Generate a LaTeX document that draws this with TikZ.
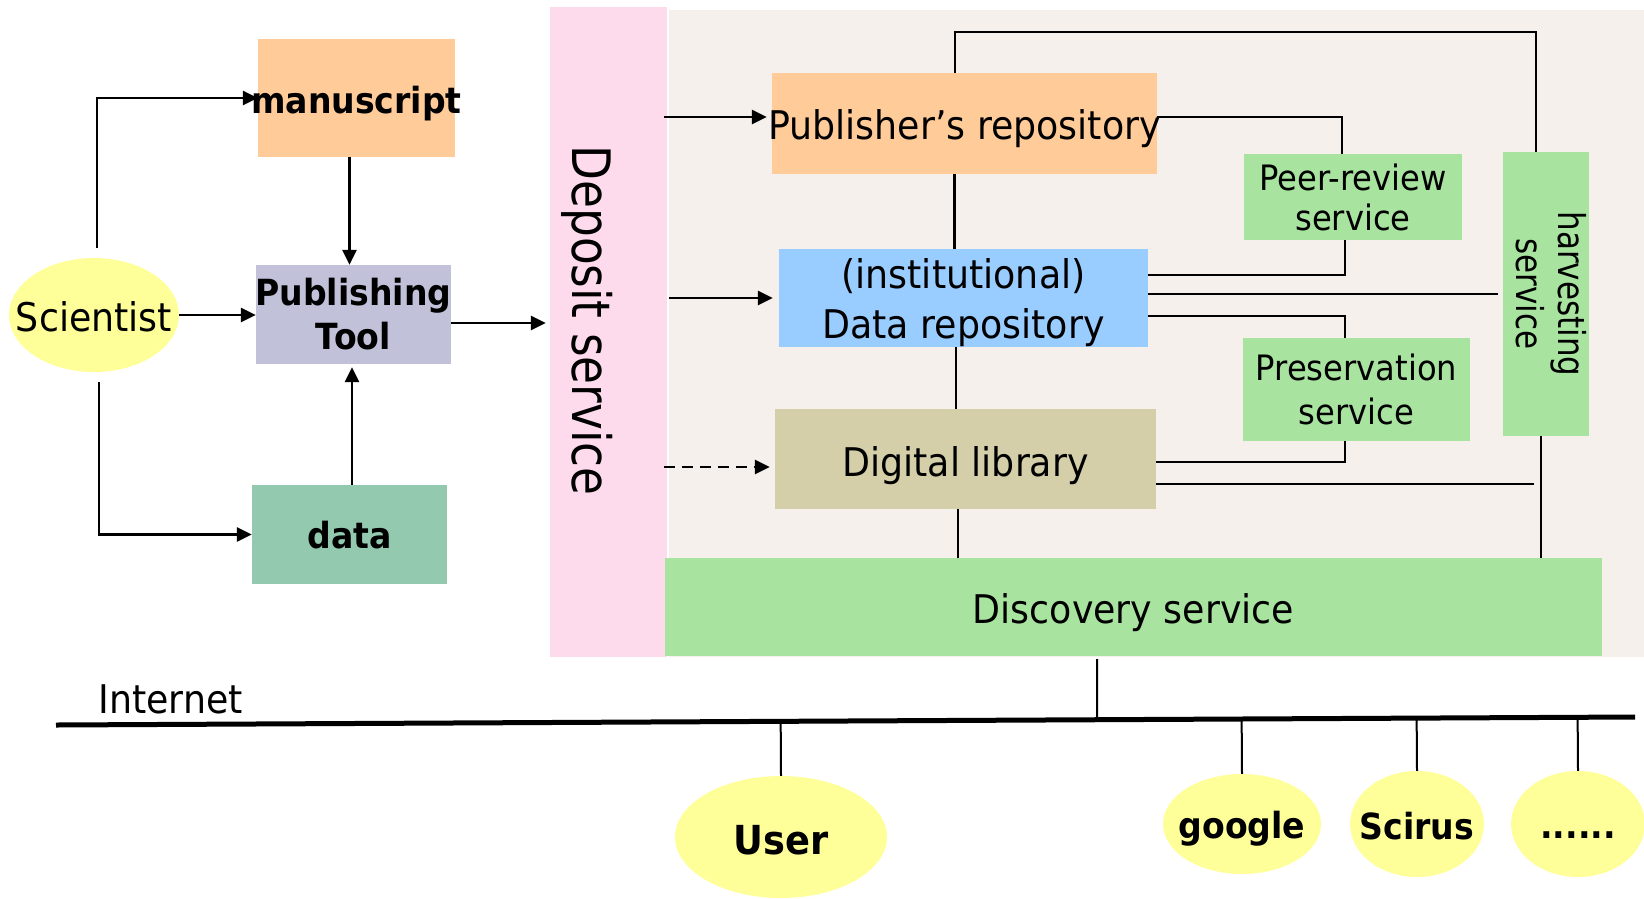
\documentclass[tikz,border=0pt]{standalone}
\usepackage{graphicx}
\usepackage{fontspec}
\setmainfont[FakeStretch=0.92]{DejaVu Sans}
\usetikzlibrary{shapes.geometric,arrows.meta,calc}

\definecolor{peach}{RGB}{255,204,153}
\definecolor{lavender}{RGB}{193,193,217}
\definecolor{seagreen}{RGB}{147,201,174}
\definecolor{lemon}{RGB}{255,255,153}
\definecolor{pinkish}{RGB}{253,219,236}
\definecolor{beige}{RGB}{245,240,236}
\definecolor{skyblue}{RGB}{153,204,255}
\definecolor{khaki}{RGB}{212,207,168}
\definecolor{mint}{RGB}{168,228,160}

\newcommand\setfs[2]{\fontsize{#1}{#2}\selectfont}

\begin{document}
\begin{tikzpicture}[x=1pt,y=-1pt,
  box/.style={rectangle,inner sep=0pt,align=center},
  oval/.style={ellipse,inner sep=0pt,fill=lemon},
  link/.style={line width=2.8pt},
  arr/.style={line width=2.8pt,-{Triangle[length=15pt,width=14pt]}},
  probe/.style={line width=2pt},
  plain/.style={font=\setfs{39.5}{50}},
  heavy/.style={font=\bfseries\setfs{36}{44}}]

\useasboundingbox (0,0) rectangle (1644,898);
\fill[white] (0,0) rectangle (1644,898);

% service area and deposit column
\fill[beige] (669,10) rectangle (1644,657);
\node[box,fill=pinkish,minimum width=117pt,minimum height=650pt] (dep) at (608.5,332) {};
\node[rotate=-90,anchor=base,font=\setfs{53}{60}] (deplabel) at (572,320.5)
  {\scalebox{0.93}[1]{Deposit service}};

% author side
\node[oval,minimum width=170pt,minimum height=114pt,plain,text height=32pt,text depth=0pt] (sci) at (94,315) {\makebox[0pt]{Scientist}};
\node[box,fill=peach,minimum width=197pt,minimum height=118pt,heavy,text height=30pt,text depth=0pt] (man) at (356.5,98) {\makebox[0pt]{manuscript}};
\node[box,fill=lavender,minimum width=195pt,minimum height=99pt,heavy] (tool) at (353.5,314.5) {\makebox[0pt]{Publishing}\\Tool};
\node[box,fill=seagreen,minimum width=195pt,minimum height=99pt,heavy,text height=27pt,text depth=0pt] (dat) at (349.5,534.5) {data};

% repositories
\node[box,fill=peach,minimum width=385pt,minimum height=101pt,plain,text height=31pt,text depth=0pt] (pub) at (964.5,123.5) {\makebox[0pt]{Publisher’s repository}};
\node[box,fill=skyblue,minimum width=369pt,minimum height=98pt,
  label={[name=dreptext,plain,align=center,yshift=-5pt]center:{(institutional)\\Data repository}}] (drep) at (963.5,298) {};
\node[box,fill=khaki,minimum width=381pt,minimum height=100pt,plain,text height=34pt,text depth=0pt] (dig) at (965.5,459) {Digital library};

% services
\node[box,fill=mint,minimum width=218pt,minimum height=86pt,font=\setfs{35}{40}] (peer) at (1353,197) {Peer-review\\service};
\node[box,fill=mint,minimum width=227pt,minimum height=103pt,font=\setfs{35}{44}] (pres) at (1356.5,389.5) {Preservation\\service};
\node[box,fill=mint,minimum width=86pt,minimum height=284pt,font=\setfs{37}{42}] (harv) at (1546,294)
  {\rotatebox{-90}{\begin{tabular}{@{}c@{}}\scalebox{0.91}[1]{harvesting}\\\scalebox{0.91}[1]{service}\end{tabular}}};
\node[box,fill=mint,minimum width=937pt,minimum height=98pt,plain,text height=32pt,text depth=0pt] (disc) at (1133.5,607) {Discovery service};

% network and its users
\coordinate (netL) at (56,725);
\coordinate (netR) at (1635,717);
\node[plain,anchor=base west] (inet) at (95,713) {Internet};
\node[oval,minimum width=212pt,minimum height=122pt,font=\bfseries\setfs{40}{44},text height=34pt,text depth=0pt] (user) at (781,837) {\makebox[0pt]{User}};
\node[oval,minimum width=158pt,minimum height=100pt,heavy,text height=28pt,text depth=0pt] (google) at (1242,824) {\makebox[0pt]{google}};
\node[oval,minimum width=134pt,minimum height=106pt,heavy,text height=30pt,text depth=0pt] (scirus) at (1417,824) {\makebox[0pt]{Scirus}};
\node[oval,minimum width=134pt,minimum height=106pt,heavy,text height=28pt,text depth=0pt] (more) at (1578,824) {\makebox[0pt]{......}};

% author workflow
\draw[arr] ([xshift=3pt,yshift=10pt]sci.north) |- (man.west);
\draw[arr] (sci.east) -- (sci.east -| tool.west);
\draw[arr] ([xshift=5pt,yshift=-10pt]sci.south) |- (dat.west);
\draw[arr] ([xshift=-7pt]man.south) -- ([xshift=-7pt]man.south |- tool.north);
\draw[arr,shorten >=3pt] ([xshift=2.5pt]dat.north) -- ([xshift=2.5pt]dat.north |- tool.south);
\draw[arr,shorten >=4pt] ([yshift=-8.5pt]tool.east) -- ([yshift=-8.5pt]tool.east -| dep.west);

% deposits
\draw[arr,shorten >=5pt] ([xshift=-3pt,yshift=6.5pt]pub.west -| dep.east) -- ([yshift=6.5pt]pub.west);
\draw[arr,shorten >=6pt] ([xshift=2pt]drep.west -| dep.east) -- (drep.west);
\draw[arr,shorten >=5pt,dash pattern=on 11pt off 7pt] ([xshift=-3pt,yshift=-8pt]dig.west -| dep.east) -- ([yshift=-8pt]dig.west);

% links between repositories
\coordinate (railR) at (1536,32);
\draw[link] ([xshift=-9.5pt]pub.north) |- (railR) -- (railR |- harv.north);
\draw[link] ([xshift=-10pt]pub.south) -- ([xshift=-10pt]pub.south |- drep.north);
\draw[link] ([xshift=-7.5pt]drep.south) -- ([xshift=-7.5pt]drep.south |- dig.north);
\draw[link] ([xshift=-7.5pt]dig.south) -- ([xshift=-7.5pt]dig.south |- disc.north);

% links to services
\draw[link] ([yshift=6.5pt]pub.east) -| ([xshift=-11pt]peer.north);
\draw[link] ([xshift=-8pt]peer.south) |- ([yshift=23pt]drep.east);
\draw[link,shorten >=5pt] ([yshift=4pt]drep.east) -- ([yshift=4pt]drep.east -| harv.west);
\draw[link] ([yshift=-18pt]drep.east) -| ([xshift=-11.5pt]pres.north);
\draw[link] ([xshift=-11.5pt]pres.south) |- ([yshift=-3pt]dig.east);
\coordinate (harvdrop) at ([xshift=-5pt]harv.south);
\draw[link,shorten >=7pt] ([yshift=-25pt]dig.east) -- ([yshift=-25pt]dig.east -| harvdrop);
\draw[link] (harvdrop) -- (harvdrop |- disc.north);

% internet backbone
\draw[line width=5pt] (netL) -- (netR);
\coordinate (discdrop) at ([xshift=-36.5pt,yshift=-3pt]disc.south);
\draw[probe] (discdrop) -- ($(netL)!(discdrop)!(netR)$);
\draw[probe] ($(netL)!(user.north)!(netR)$) -- (user.north);
\draw[probe] ($(netL)!(google.north)!(netR)$) -- (google.north);
\draw[probe] ($(netL)!(scirus.north)!(netR)$) -- (scirus.north);
\draw[probe] ($(netL)!(more.north)!(netR)$) -- (more.north);
\end{tikzpicture}
\end{document}
